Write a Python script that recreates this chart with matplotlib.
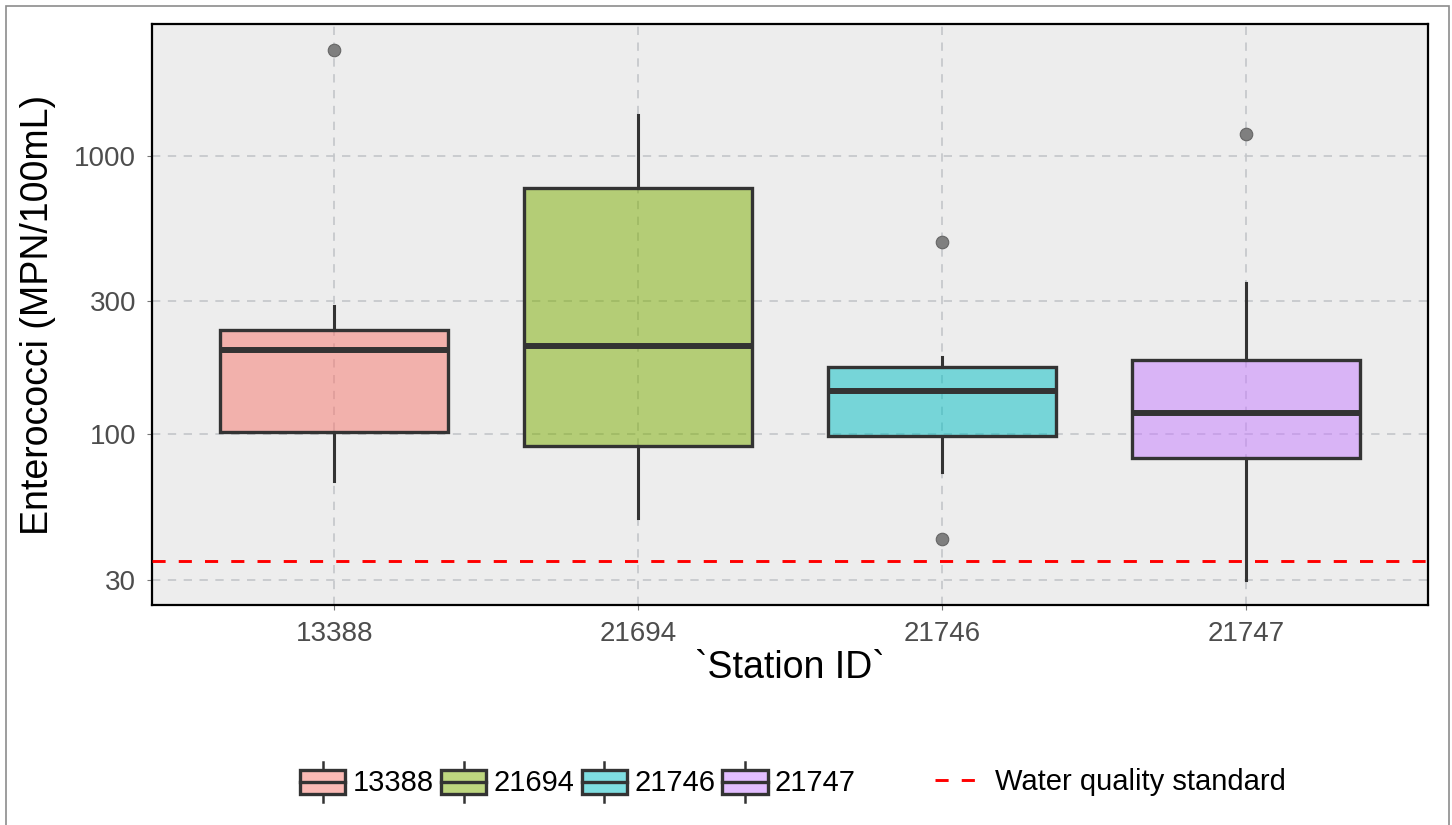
import matplotlib
matplotlib.use('Agg')
import matplotlib.pyplot as plt
from matplotlib.colors import to_rgba
from matplotlib.lines import Line2D
from matplotlib.patches import Patch, Rectangle
from matplotlib.legend_handler import HandlerBase
from matplotlib.ticker import NullLocator

plt.rcParams['font.family'] = ['Liberation Sans', 'DejaVu Sans']

# Enterococci summary per station (MPN/100mL)
stations = ['13388', '21694', '21746', '21747']
whisker_low = [68, 50, 73, 30]
q1 = [102, 91, 99, 82]
medians = [200, 208, 143, 119]
q3 = [236, 767, 175, 185]
whisker_high = [290, 1400, 190, 348]
outliers = [[2400], [], [42, 490], [1200]]
standard = 35
y_ticks = [30, 100, 300, 1000]

fill_colors = ['#F8766D', '#7CAE00', '#00BFC4', '#C77CFF']
edge = '#333333'
W, H = 1452, 825


class BoxKeyHandler(HandlerBase):
    # draws a small boxplot glyph as the legend key
    def create_artists(self, legend, orig_handle, xdescent, ydescent,
                       width, height, fontsize, trans):
        x0, y0 = -xdescent, -ydescent
        cx = x0 + width / 2
        box_h = height * 0.6
        by = y0 + (height - box_h) / 2
        rect = Rectangle((x0, by), width, box_h, facecolor=orig_handle.get_facecolor(),
                         edgecolor=edge, lw=2.4, transform=trans)
        med = Line2D([x0, x0 + width], [y0 + height / 2] * 2, color=edge, lw=2.4, transform=trans)
        top = Line2D([cx, cx], [by + box_h, y0 + height], color=edge, lw=1.8, transform=trans)
        bot = Line2D([cx, cx], [y0, by], color=edge, lw=1.8, transform=trans)
        return [rect, med, top, bot]


stats = [dict(label=s, whislo=lo, q1=a, med=m, q3=b, whishi=hi, fliers=f)
         for s, lo, a, m, b, hi, f in zip(stations, whisker_low, q1, medians, q3, whisker_high, outliers)]

fig = plt.figure(figsize=(W / 100, H / 100), dpi=100)
ax = fig.add_axes([152 / W, 1 - 605 / H, (1428 - 152) / W, (605 - 24) / H])
ax.set_facecolor('#EDEDED')
ax.set_yscale('log')

bp = ax.bxp(stats, positions=range(1, len(stations) + 1), widths=0.75, patch_artist=True,
            showcaps=False,
            boxprops=dict(edgecolor=edge, linewidth=2.4),
            whiskerprops=dict(color=edge, linewidth=2.2),
            medianprops=dict(color=edge, linewidth=4.3, solid_capstyle='butt'),
            flierprops=dict(marker='o', markerfacecolor='#7f7f7f', markeredgecolor='#666666',
                            markersize=9, markeredgewidth=0.8))
for patch, c in zip(bp['boxes'], fill_colors):
    patch.set_facecolor(to_rgba(c, 0.5))

ax.axhline(standard, color='red', lw=2.1, dashes=(4.5, 4.5), zorder=5)

ax.set_xlim(0.4, 4.6)
ax.set_ylim(24.4, 2972)
ax.set_yticks(y_ticks)
ax.set_yticklabels([str(v) for v in y_ticks])
ax.yaxis.set_minor_locator(NullLocator())
ax.set_axisbelow(True)
ax.grid(True, color='#c3c6ca', lw=1.2, dashes=(5, 4.5))
ax.tick_params(axis='both', labelsize=20, labelcolor='#4D4D4D', color='#777777',
               length=3.5, width=0.8, pad=8)
for sp in ax.spines.values():
    sp.set_color('black')
    sp.set_linewidth(1.6)

ax.set_xlabel('`Station ID`', fontsize=27, labelpad=2)
ax.set_ylabel('Enterococci (MPN/100mL)', fontsize=27, labelpad=13)

# legends below the panel
fill_handles = [Patch(facecolor=to_rgba(c, 0.5), edgecolor=edge) for c in fill_colors]
fig.legend(fill_handles, stations, loc='center left', bbox_to_anchor=(300 / W, 1 - 782 / H),
           ncol=4, frameon=False, fontsize=21, handlelength=1.55, handleheight=1.75,
           handletextpad=0.25, columnspacing=0.25, borderpad=0, borderaxespad=0,
           handler_map={Patch: BoxKeyHandler()})
line_handle = Line2D([], [], color='red', lw=2.1, dashes=(4.5, 4.5))
fig.legend([line_handle], ['Water quality standard'], loc='center left',
           bbox_to_anchor=(935 / W, 1 - 782 / H), frameon=False, fontsize=21,
           handlelength=1.6, handletextpad=0.45, borderpad=0, borderaxespad=0)

fig.add_artist(Rectangle((6 / W, -0.01), (1449 - 6) / W, (H - 6) / H + 0.01,
                         transform=fig.transFigure, fill=False, edgecolor='#8c8c8c', lw=1.2))

fig.savefig('out.png', dpi=100)
